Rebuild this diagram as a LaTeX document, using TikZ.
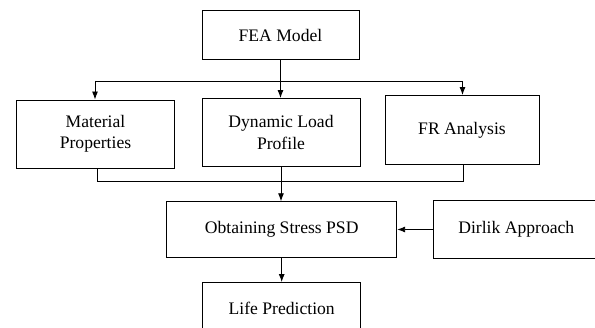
\documentclass[tikz,border=0pt]{standalone}
\usepackage{fontspec}
\setmainfont{Liberation Serif}
\usetikzlibrary{arrows.meta}
\tikzset{
  x=1pt, y=-1pt,
  box/.style={draw, line width=0.9pt, inner sep=2pt, align=center,
    font=\fontsize{17.6}{21.5}\selectfont},
  conn/.style={line width=0.9pt},
  arr/.style={conn, -{Latex[length=8pt,width=6pt]}}
}
\begin{document}
\begin{tikzpicture}
\useasboundingbox (0,0) rectangle (595,328);
\clip (0,0) rectangle (595,328);
\node[box, minimum width=157pt, minimum height=48.5pt] (fea) at (280.5,35) {FEA Model};
\node[box, minimum width=157.5pt, minimum height=68pt] (mat) at (95.5,134) {Material\\Properties};
\node[box, minimum width=158pt, minimum height=68pt] (dyn) at (281,132.5) {Dynamic Load\\Profile};
\node[box, minimum width=154pt, minimum height=69pt] (fr) at (462,130) {FR Analysis};
\node[box, minimum width=230pt, minimum height=55.5pt] (obt) at (281.7,229.5) {Obtaining Stress PSD};
\node[box, minimum width=166pt, minimum height=58pt] (dir) at (516.3,229) {Dirlik Approach};
\node[box, minimum width=158pt, minimum height=51pt] (life) at (281.7,308) {Life Prediction};
\coordinate (jl) at (95,81);
\coordinate (jr) at (462.5,81);
\coordinate (bl) at (97,181.5);
\coordinate (br) at (463,181.5);
\draw[arr] (fea.south) -- (fea.south |- dyn.north);
\draw[conn] (jl) -- (jr);
\draw[arr] (jl) -- (jl |- mat.north);
\draw[arr] (jr) -- (jr |- fr.north);
\draw[conn] (bl |- mat.south) -- (bl) -- (br) -- (br |- fr.south);
\draw[arr] (dyn.south) -- (dyn.south |- obt.north);
\draw[arr] (dir.west |- obt.east) -- (obt.east);
\draw[arr] (obt.south) -- (obt.south |- life.north);
\end{tikzpicture}
\end{document}
